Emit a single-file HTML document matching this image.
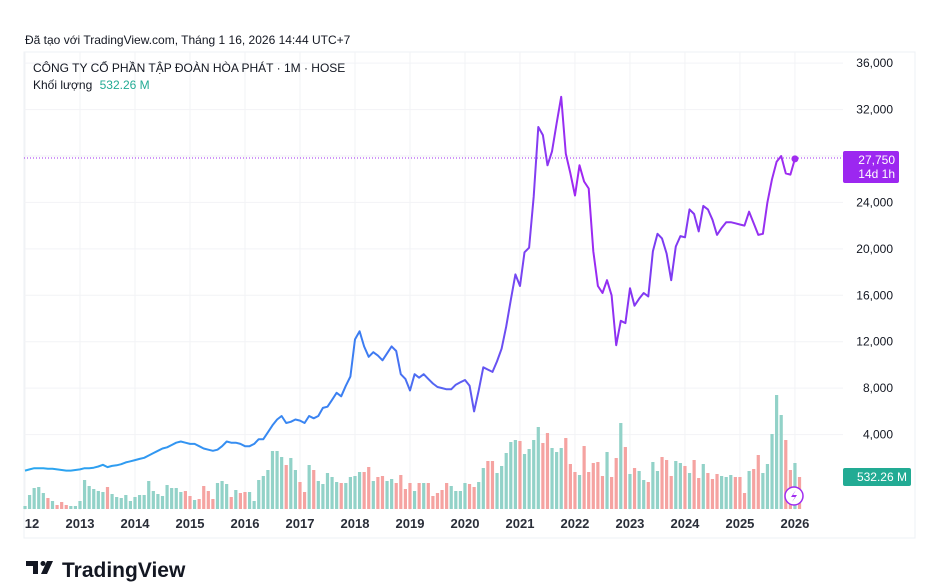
<!DOCTYPE html>
<html><head><meta charset="utf-8">
<style>
body{margin:0;background:#fff;width:927px;height:587px;overflow:hidden;font-family:"Liberation Sans","Noto Sans CJK SC",sans-serif;}
</style></head>
<body>
<svg id="chart" width="927" height="587" xmlns="http://www.w3.org/2000/svg" style="position:absolute;left:0;top:0">
<defs>
<linearGradient id="lg" gradientUnits="userSpaceOnUse" x1="24" y1="0" x2="794" y2="0">
<stop offset="0" stop-color="#2aa8f0"/><stop offset="0.45" stop-color="#3d7cf2"/><stop offset="0.62" stop-color="#6a4ff2"/><stop offset="0.72" stop-color="#a226f2"/><stop offset="0.82" stop-color="#7a3df2"/><stop offset="1" stop-color="#a02cf0"/>
</linearGradient>
</defs>
<text x="25" y="44" font-size="12" fill="#131722">Đã tạo với TradingView.com, Tháng 1 16, 2026 14:44 UTC+7</text>
<rect x="24" y="52" width="891" height="486" fill="none" stroke="#eef0f4"/>
<g id="grid"></g>
<g id="vol"></g>
<line x1="24" x2="843" y1="158" y2="158" stroke="#a02cf0" stroke-dasharray="1 2"/>
<path id="line" fill="none" stroke="url(#lg)" stroke-width="2" stroke-linejoin="round"/>
<circle id="lastdot" r="3.5" fill="#a02cf0"/>
<g id="yaxis"></g>
<g id="xaxis"></g>
<text x="33" y="72" font-size="12" fill="#131722">CÔNG TY CỔ PHẦN TẬP ĐOÀN HÒA PHÁT · 1M · HOSE</text>
<text x="33" y="89" font-size="12" fill="#131722">Khối lượng <tspan fill="#22ab94" dx="4">532.26 M</tspan></text>
<rect x="843" y="151" width="56" height="32" rx="2" fill="#9c27f0"/>
<text x="895" y="164" font-size="12" fill="#fff" text-anchor="end">27,750</text>
<text x="895" y="178" font-size="12" fill="#fff" text-anchor="end">14d 1h</text>
<rect x="843" y="468" width="68" height="18" rx="2" fill="#22ab94"/>
<text x="907" y="481" font-size="12" fill="#fff" text-anchor="end">532.26 M</text>
<g><circle cx="794" cy="496" r="9" fill="#fff" stroke="#a02cf0" stroke-width="1.5"/><path d="M796 490 L791 497 L795 497 L792 502 L797 495 L793 495 Z" fill="#a02cf0"/></g>
<g>
<path d="M26 561 h12 v13 h-5 v-8 h-7 z" fill="#131722"/><circle cx="43" cy="563.5" r="2.5" fill="#131722"/><path d="M47 561 h6 l-6 13 h-6 z" fill="#131722"/>
<text x="62" y="577" font-size="21" font-weight="bold" fill="#131722">TradingView</text></g>
</svg>
<script>
const priceYears=["12","2013","2014","2015","2016","2017","2018","2019","2020","2021","2022","2023","2024","2025","2026"];
const priceTicks=[4000,8000,12000,16000,20000,24000,28000,32000,36000];
const closes=[0.9,1.0,1.1,1.1,1.1,1.05,1.05,1.0,0.95,0.9,0.9,0.95,
1.0,1.1,1.1,1.15,1.25,1.4,1.2,1.3,1.35,1.45,1.6,1.7,
1.8,1.9,2.0,2.2,2.4,2.6,2.8,2.9,3.1,3.3,3.4,3.3,
3.2,3.2,3.0,2.8,2.7,2.6,2.7,3.0,3.4,3.3,3.3,3.2,
3.0,3.0,3.2,3.6,3.6,4.2,4.8,5.3,5.6,5.0,5.1,5.3,
5.2,5.0,5.6,5.4,5.6,6.3,6.4,7.0,7.6,7.3,8.2,9.0,
12.2,12.9,11.6,10.7,11.1,10.8,10.4,11.0,11.6,11.2,9.2,8.8,
7.8,9.2,8.9,9.2,8.8,8.4,8.1,8.0,7.9,7.9,8.3,8.5,
8.7,8.2,6.0,7.8,
9.8,9.6,9.4,10.3,11.4,13.3,15.6,17.8,16.8,19.7,20.1,24.5,
30.5,29.8,27.2,28.4,30.8,33.1,28.2,26.5,24.6,27.2,25.8,25.2,
19.8,16.8,16.2,17.3,16.0,11.7,13.8,13.6,16.6,15.1,15.7,16.2,
15.9,19.8,21.3,20.9,19.6,17.3,20.2,21.1,21.0,23.4,23.0,21.5,
23.7,23.4,22.5,21.2,21.8,22.3,22.3,22.2,22.1,22.0,23.2,22.2,21.2,
21.3,24.0,26.0,27.5,28.0,26.5,26.4,27.75];
const volume=[3,14,21,22,16,11,8,4,7,4,3,3,
8,29,23,20,18,17,22,15,12,11,14,8,
12,14,14,28,18,15,13,24,21,21,17,18,
13,9,10,23,18,10,26,28,25,12,19,16,
17,17,8,29,33,39,58,58,52,44,51,39,
27,17,44,39,28,25,36,32,27,26,26,32,
33,37,37,42,28,32,33,28,30,26,34,20,
26,18,26,26,26,13,16,19,26,23,18,18,
26,25,22,27,41,48,48,36,43,56,67,69,68,55,60,69,82,66,76,61,57,61,71,45,37,34,63,37,46,47,33,57,32,51,86,62,35,41,38,29,27,47,38,52,49,33,48,46,43,36,49,31,45,36,30,35,33,32,34,32,32,16,38,40,54,36,45,75,114,94,69,39,46,32];
const NS="http://www.w3.org/2000/svg";
const x=i=>25+i*4.583;
const y=v=>481-v*11.607/1000;
const vy=v=>509-v;
const grid=document.getElementById('grid'),vol=document.getElementById('vol'),ya=document.getElementById('yaxis'),xa=document.getElementById('xaxis');
function mk(tag,attrs,parent){const e=document.createElementNS(NS,tag);for(const k in attrs)e.setAttribute(k,attrs[k]);parent.appendChild(e);return e;}
priceTicks.forEach(t=>{
 const l=mk('line',{x1:24,x2:843,y1:y(t),y2:y(t),stroke:'#f2f3f6'},grid);
 
 
 if(t===28000)return;
 const tx=mk('text',{x:893,y:y(t)+4,'font-size':12,fill:'#131722','text-anchor':'end'},ya);
 tx.textContent=t.toLocaleString('en-US');
 
 
});
priceYears.forEach((lab,k)=>{
 const xi=x(k*12);
 const l=mk('line',{x1:xi,x2:xi,y1:52,y2:510,stroke:'#f2f3f6'},grid);
 
 
 const tx=mk('text',{x:k===0?32:xi,y:528,'font-size':13,'font-weight':'bold',fill:'#2a2e39','text-anchor':'middle'},xa);
 tx.textContent=lab;
 
 
});
volume.forEach((v,i)=>{
 const up=i===0||closes[i]>=closes[i-1];
 const r=mk('rect',{x:x(i)-1.6,y:vy(v),width:3.2,height:v,fill:up?'#92d2c8':'#f5a3a1'},vol);
 
 
});
document.getElementById('line').setAttribute('d',closes.map((c,i)=>(i?'L':'M')+x(i).toFixed(1)+' '+y(c*1000).toFixed(1)).join(' '));
const li=closes.length-1,d=document.getElementById('lastdot');
d.setAttribute('cx',x(li));d.setAttribute('cy',y(closes[li]*1000));
</script>
</body></html>
